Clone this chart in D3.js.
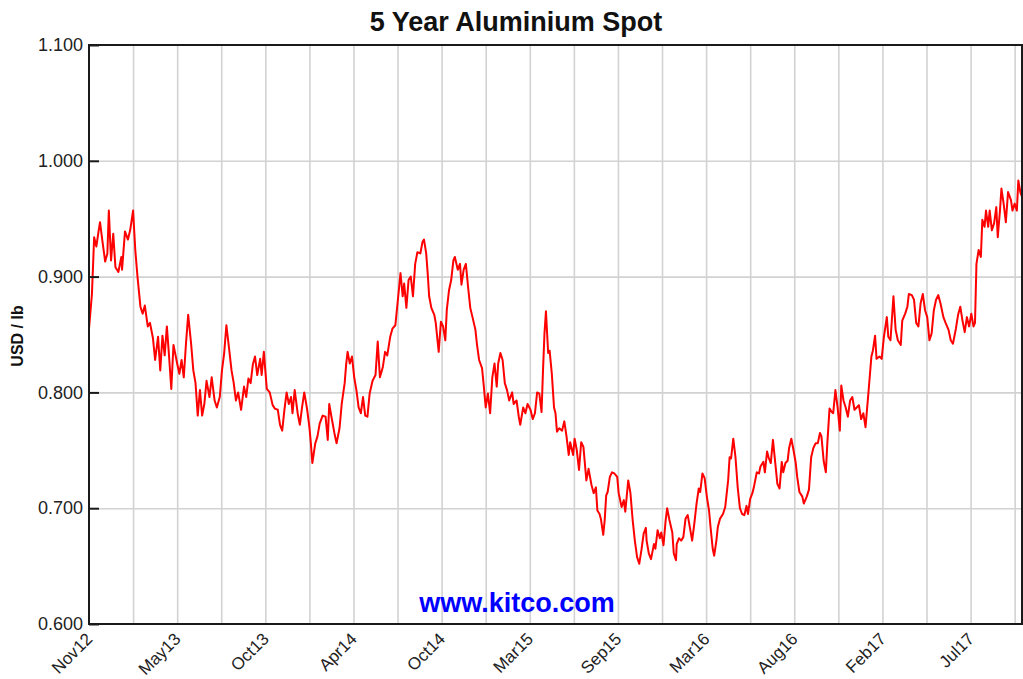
<!DOCTYPE html>
<html>
<head>
<meta charset="utf-8">
<script src="https://cdn.jsdelivr.net/npm/d3@7"></script>
<style>
  body { margin: 0; background: #fff; }
  svg { display: block; font-family: "Liberation Sans", Arial, sans-serif; }
</style>
</head>
<body>
<svg id="chart" width="1023" height="679"></svg>
<script>
// trading day index -> USD/lb
const spot = [
  [0,.855],[4,.885],[7,.934],[10,.926],[13,.939],[15,.947],[18,.932],[22,.913],[25,.920],[27,.957],[30,.914],[33,.937],[36,.908],[40,.904],[44,.917],[45,.906],[49,.939],[53,.932],[56,.940],[60,.957],[63,.923],[66,.900],[70,.874],[73,.868],[76,.875],[80,.857],[83,.860],[87,.847],[90,.828],[94,.848],[97,.819],[100,.849],[103,.832],[106,.857],[109,.831],[112,.803],[115,.841],[120,.825],[123,.816],[126,.828],[129,.813],[132,.842],[135,.867],[139,.842],[142,.819],[145,.808],[148,.780],[151,.802],[154,.780],[157,.790],[160,.810],[164,.796],[167,.813],[171,.793],[174,.787],[178,.796],[181,.819],[184,.834],[187,.858],[191,.836],[194,.819],[197,.808],[200,.793],[203,.800],[207,.785],[211,.805],
  [214,.796],[217,.812],[220,.808],[223,.824],[226,.831],[229,.815],[233,.829],[235,.815],[238,.835],[242,.803],[246,.800],[250,.789],[253,.786],[257,.785],[260,.772],[263,.767],[266,.785],[269,.800],[272,.790],[275,.796],[277,.782],[280,.802],[284,.782],[287,.772],[290,.787],[293,.800],[297,.785],[300,.770],[302,.756],[304,.739],[308,.756],[311,.762],[314,.773],[318,.780],[322,.779],[325,.759],[327,.790],[330,.779],[334,.765],[337,.756],[341,.769],[344,.790],[348,.808],[350,.824],[352,.835],[355,.825],[358,.831],[361,.813],[364,.802],[367,.787],[370,.782],[373,.796],[376,.780],[379,.779],[382,.799],[386,.810],[390,.815],[393,.844],[396,.813],[400,.822],[403,.835],[406,.832],[410,.848],[413,.855],[417,.858],[420,.877],
  [424,.903],[427,.883],[429,.894],[432,.873],[435,.897],[438,.900],[441,.883],[444,.911],[447,.921],[451,.920],[454,.930],[456,.932],[459,.920],[461,.903],[463,.883],[466,.873],[470,.867],[472,.860],[476,.835],[479,.861],[482,.857],[485,.845],[487,.871],[490,.888],[493,.897],[496,.914],[498,.917],[502,.906],[505,.911],[507,.893],[510,.906],[513,.911],[516,.891],[519,.873],[522,.865],[526,.854],[528,.842],[531,.828],[535,.821],[537,.808],[540,.787],[543,.799],[546,.782],[549,.813],[552,.825],[555,.805],[557,.825],[560,.834],[563,.828],[566,.808],[569,.802],[572,.793],[576,.800],[578,.790],[582,.793],[585,.779],[587,.772],[591,.787],[594,.782],[597,.790],[601,.785],[604,.777],[607,.782],[610,.800],[613,.799],[616,.783],[618,.819],[620,.851],[622,.870],[625,.834],[627,.836],[630,.816],[633,.787],
  [635,.782],[637,.766],[640,.769],[644,.767],[647,.775],[650,.762],[653,.746],[655,.757],[659,.746],[661,.760],[664,.750],[667,.733],[670,.757],[673,.753],[677,.724],[680,.734],[684,.720],[687,.713],[690,.718],[692,.698],[695,.695],[697,.690],[700,.677],[702,.690],[704,.711],[706,.714],[709,.727],[712,.731],[715,.730],[719,.727],[721,.713],[725,.701],[728,.707],[730,.697],[734,.724],[737,.713],[740,.690],[743,.672],[746,.658],[749,.652],[752,.664],[755,.678],[758,.683],[759,.672],[762,.661],[765,.656],[769,.669],[771,.665],[774,.681],[777,.674],[779,.679],[782,.668],[785,.690],[787,.700],[790,.690],[794,.679],[796,.661],[799,.655],[800,.669],[803,.674],[806,.672],[809,.675],[812,.691],[815,.694],[818,.683],[821,.672],[824,.687],[827,.704],[830,.717],[832,.714],[835,.730],[838,.726],[841,.710],[844,.698],[846,.684],[849,.665],[851,.659],[854,.672],[856,.684],[859,.691],
  [863,.695],[866,.701],[870,.724],[872,.744],[874,.743],[877,.760],[880,.744],[883,.718],[886,.700],[889,.695],[892,.694],[895,.702],[897,.695],[900,.708],[903,.713],[905,.718],[909,.731],[912,.730],[914,.736],[918,.740],[920,.731],[923,.749],[925,.744],[928,.739],[931,.759],[934,.740],[937,.721],[940,.717],[943,.740],[945,.731],[948,.739],[951,.741],[953,.752],[956,.760],[959,.750],[962,.739],[964,.727],[967,.714],[971,.710],[973,.704],[977,.710],[980,.716],[983,.744],[986,.752],[989,.756],[992,.756],[995,.765],[997,.762],[1000,.741],[1003,.731],[1005,.756],[1008,.786],[1011,.783],[1013,.782],[1016,.802],[1019,.787],[1022,.767],[1024,.806],[1027,.793],[1030,.787],[1033,.779],[1036,.793],[1039,.796],[1042,.785],[1045,.787],[1048,.789],[1051,.777],[1054,.782],[1057,.770],[1061,.800],
  [1065,.831],[1067,.836],[1070,.849],[1072,.829],[1076,.831],[1079,.829],[1082,.848],[1086,.865],[1088,.848],[1091,.845],[1095,.883],[1098,.854],[1101,.845],[1105,.841],[1107,.862],[1111,.868],[1114,.874],[1116,.885],[1120,.884],[1123,.880],[1126,.860],[1129,.857],[1132,.877],[1135,.885],[1138,.871],[1141,.865],[1144,.845],[1147,.851],[1150,.871],[1153,.880],[1156,.884],[1159,.877],[1163,.865],[1166,.860],[1170,.854],[1173,.845],[1176,.842],[1180,.855],[1183,.867],[1186,.874],[1189,.862],[1192,.852],[1195,.865],[1198,.857],[1201,.868],[1204,.857],[1206,.860],[1208,.911],[1211,.923],[1214,.917],[1216,.949],[1219,.943],[1221,.957],[1224,.943],[1226,.957],[1229,.940],[1232,.946],[1235,.960],[1237,.934],[1240,.957],[1242,.976],[1245,.963],[1248,.947],[1251,.973],[1255,.966],[1257,.957],[1260,.963],[1263,.957],[1265,.983],[1268,.972],[1270,.969]
]
const monthLabels = ["Nov12","May13","Oct13","Apr14","Oct14","Mar15","Sep15","Mar16","Aug16","Feb17","Jul17"]
const labelDays = [0,120,240,360,480,600,720,840,960,1080,1200]
const gridDays = d3.range(60, 1270, 60)
const priceTicks = [0.6, 0.7, 0.8, 0.9, 1.0, 1.1]

const svg = d3.select("#chart")
const plotLeft = 89, plotRight = 1022, plotTop = 45, plotBottom = 624

const x = d3.scaleLinear().domain([0, 1270]).range([plotLeft, plotRight])
const y = d3.scaleLinear().domain([0.6, 1.1]).range([plotBottom, plotTop])

// grid
svg.append("g")
  .attr("transform", `translate(0,${plotBottom})`)
  .call(d3.axisBottom(x).tickValues(gridDays).tickSize(-(plotBottom - plotTop)).tickFormat(""))
  .call(g => g.select(".domain").remove())
  .selectAll("line").attr("stroke", "#d2d2d2").attr("stroke-width", 1.6)

svg.append("g")
  .attr("transform", `translate(${plotLeft},0)`)
  .call(d3.axisLeft(y).tickValues(priceTicks.slice(1, -1)).tickSize(-(plotRight - plotLeft)).tickFormat(""))
  .call(g => g.select(".domain").remove())
  .selectAll("line").attr("stroke", "#d2d2d2").attr("stroke-width", 1.6)

// watermark
svg.append("text")
  .attr("x", 517).attr("y", 612)
  .attr("text-anchor", "middle")
  .attr("font-size", 27).attr("font-weight", "bold")
  .attr("fill", "#0000ff")
  .text("www.kitco.com")

// price line
const line = d3.line().x(d => x(d[0])).y(d => y(d[1]))
svg.append("path")
  .datum(spot)
  .attr("fill", "none")
  .attr("stroke", "#ff0000")
  .attr("stroke-width", 2)
  .attr("stroke-linejoin", "round")
  .attr("d", line)

// frame
svg.append("rect")
  .attr("x", plotLeft).attr("y", plotTop)
  .attr("width", plotRight - plotLeft).attr("height", plotBottom - plotTop)
  .attr("fill", "none").attr("stroke", "#1a1a1a").attr("stroke-width", 2)

// y axis
const yAxis = svg.append("g")
  .attr("transform", `translate(${plotLeft},0)`)
  .call(d3.axisLeft(y).tickValues(priceTicks).tickSizeInner(-10).tickSizeOuter(0).tickPadding(6).tickFormat(d3.format(".3f")))
yAxis.select(".domain").remove()
yAxis.selectAll("line").attr("stroke", "#1a1a1a").attr("stroke-width", 2)
yAxis.selectAll("text").attr("font-size", 18).attr("fill", "#222").attr("font-family", "Liberation Sans, Arial, sans-serif")

// x axis labels
const xAxis = svg.append("g")
  .attr("transform", `translate(0,${plotBottom})`)
  .call(d3.axisBottom(x).tickValues(labelDays).tickSize(0).tickFormat((d, i) => monthLabels[i]))
xAxis.select(".domain").remove()
xAxis.selectAll("text")
  .attr("font-size", 17).attr("fill", "#222")
  .attr("font-family", "Liberation Sans, Arial, sans-serif")
  .attr("text-anchor", "end")
  .attr("x", 0).attr("y", 0).attr("dy", 0)
  .attr("transform", "translate(4,16) rotate(-45)")

// title and axis title
svg.append("text")
  .attr("x", 516).attr("y", 31)
  .attr("text-anchor", "middle")
  .attr("font-size", 27).attr("font-weight", "bold")
  .attr("fill", "#111")
  .text("5 Year Aluminium Spot")

svg.append("text")
  .attr("transform", "translate(23,336) rotate(-90)")
  .attr("text-anchor", "middle")
  .attr("font-size", 16).attr("font-weight", "bold")
  .attr("fill", "#111")
  .text("USD / lb")
</script>
</body>
</html>
